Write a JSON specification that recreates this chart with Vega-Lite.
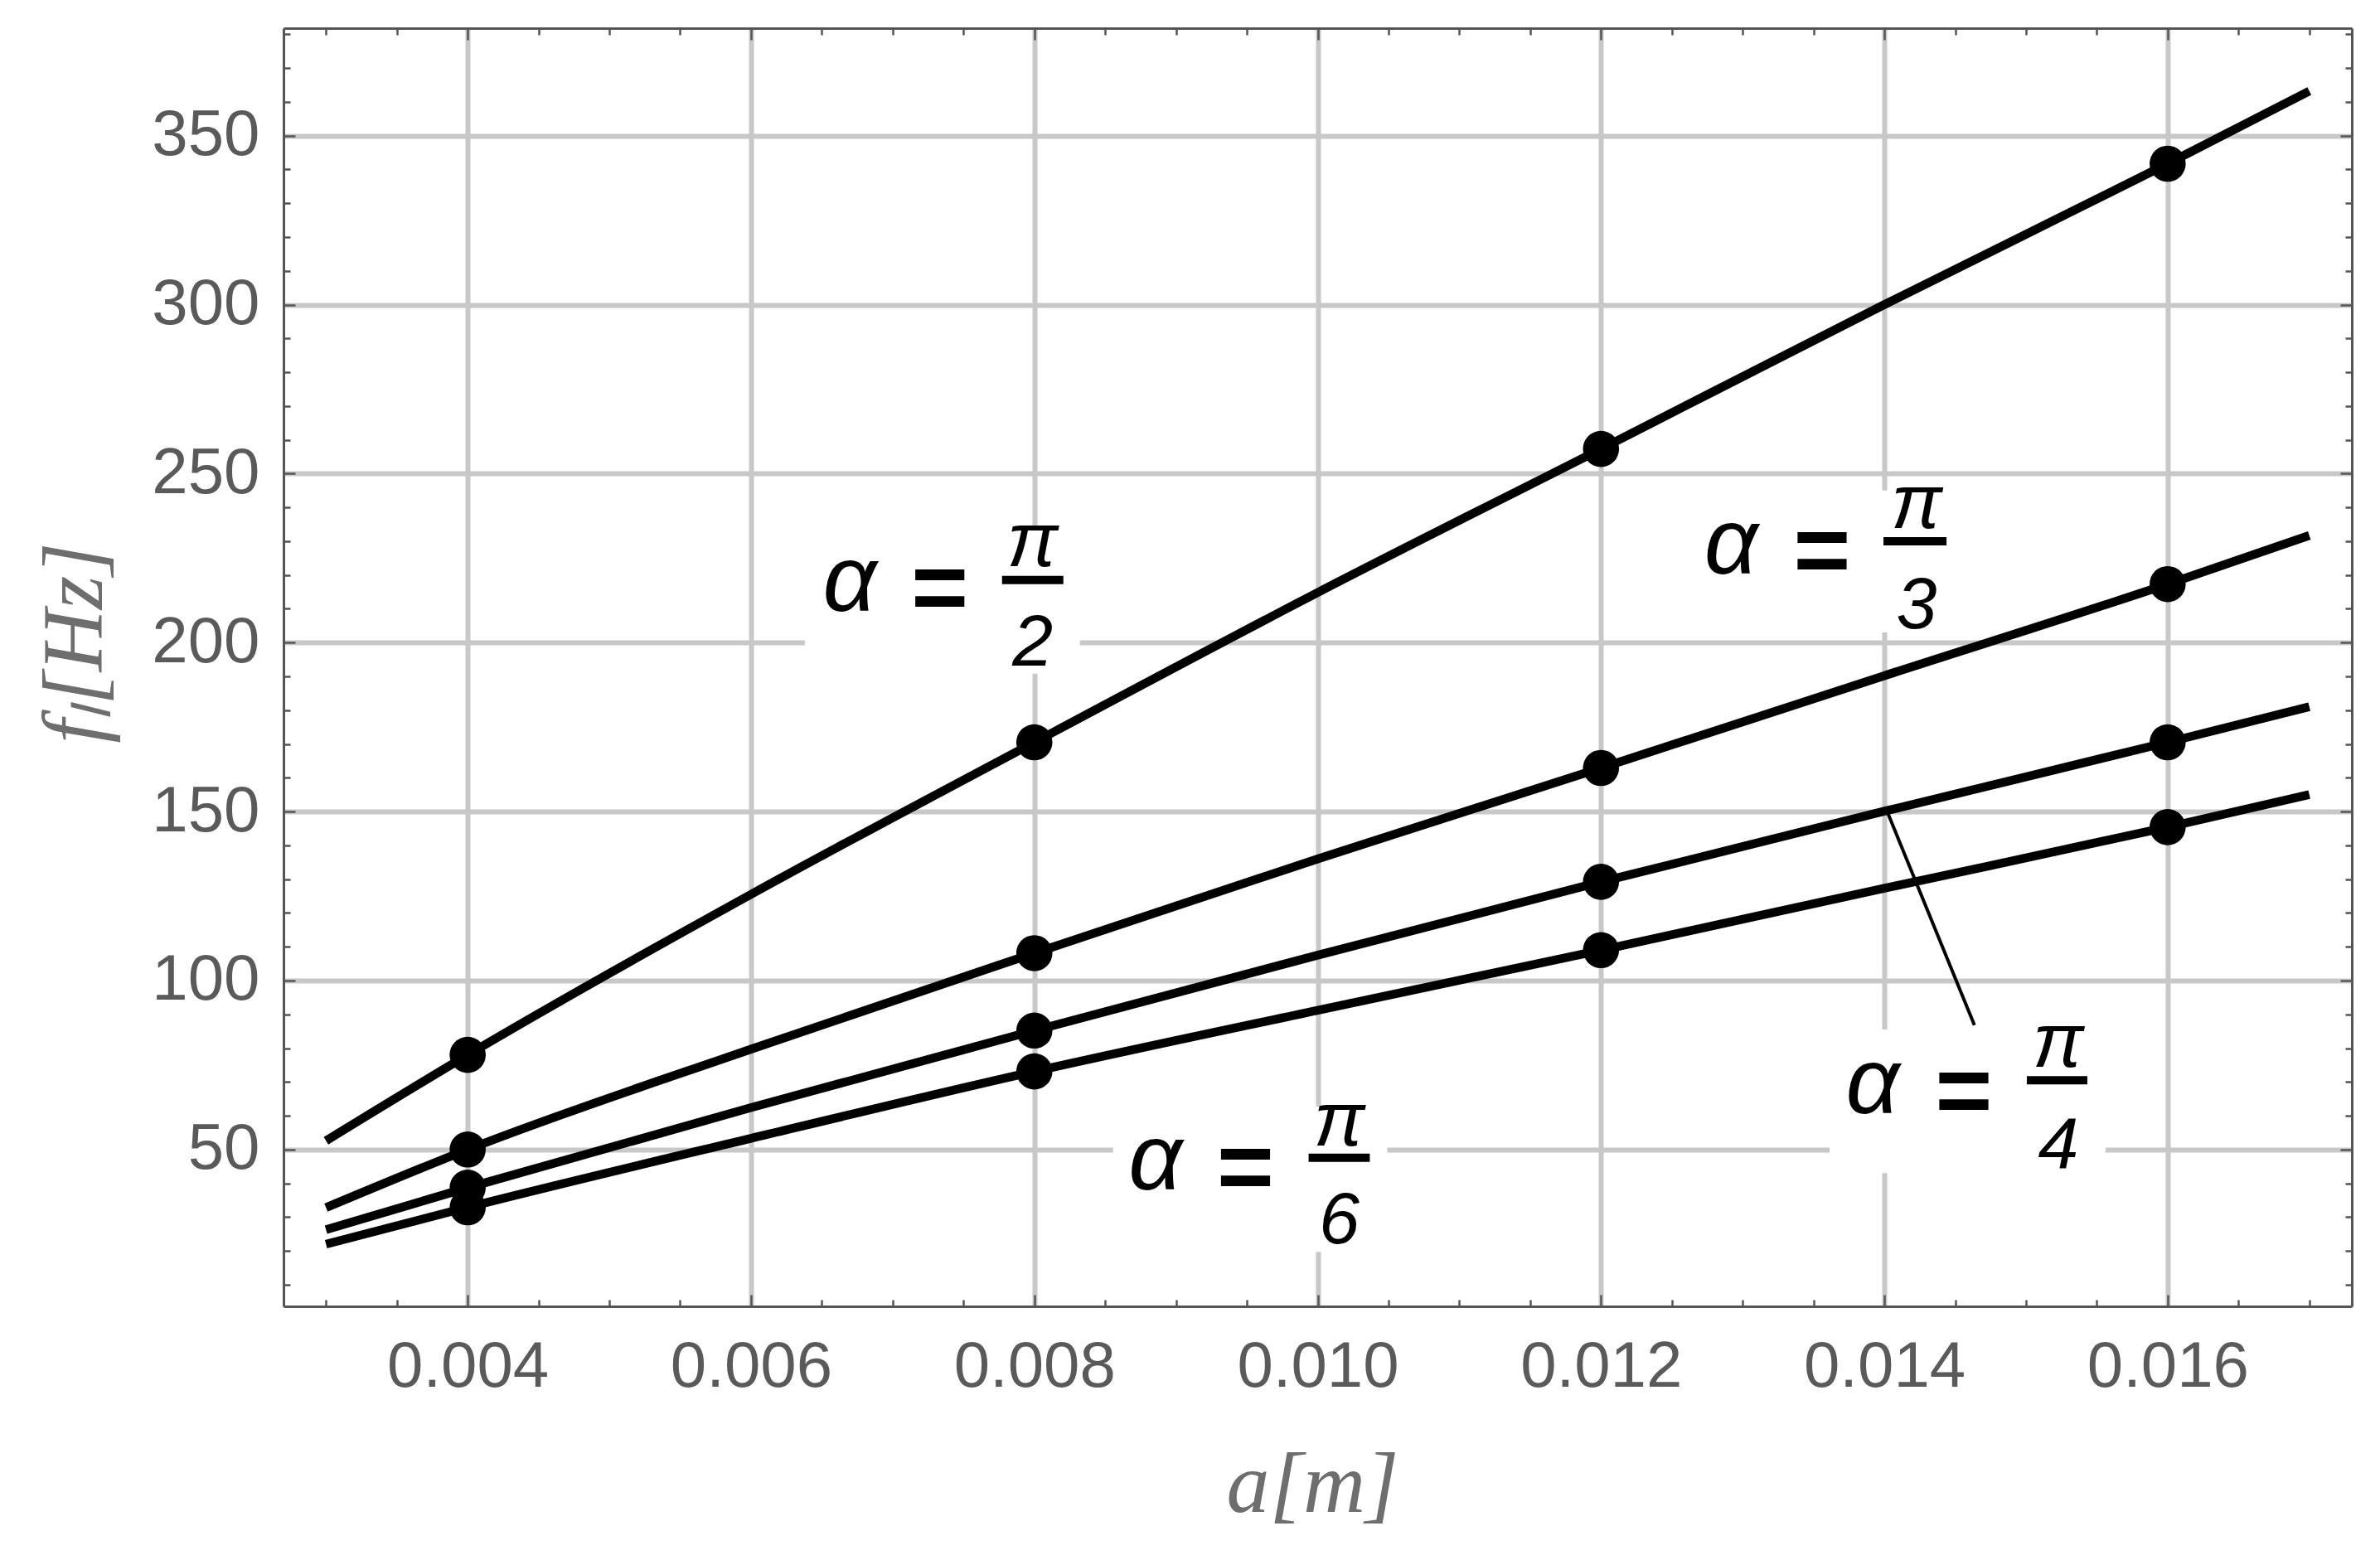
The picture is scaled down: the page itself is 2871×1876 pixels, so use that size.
{
  "$schema": "https://vega.github.io/schema/vega-lite/v6.json",
  "width": 2495,
  "height": 1542,
  "autosize": {"type": "none"},
  "padding": {"left": 342, "top": 34, "right": 34, "bottom": 300},
  "background": "white",
  "config": {
    "view": {"stroke": null},
    "axis": {
      "domainColor": "#555555",
      "domainWidth": 3,
      "tickColor": "#555555",
      "tickWidth": 2.5,
      "labelFont": "Liberation Sans",
      "labelFontSize": 78,
      "labelColor": "#5a5a5a",
      "labelLimit": 0,
      "titleFont": "Liberation Serif",
      "titleFontStyle": "italic",
      "titleFontWeight": "normal",
      "titleFontSize": 104,
      "titleColor": "#6e6e6e",
      "gridColor": "#c8c8c8",
      "gridWidth": 6,
      "gridOpacity": 1
    }
  },
  "datasets": {
    "curves": [
      {"alpha": "pi/2", "a": 0.003, "f": 52.6},
      {"alpha": "pi/2", "a": 0.004, "f": 78.0},
      {"alpha": "pi/2", "a": 0.006, "f": 125.5},
      {"alpha": "pi/2", "a": 0.008, "f": 170.5},
      {"alpha": "pi/2", "a": 0.010, "f": 214.8},
      {"alpha": "pi/2", "a": 0.012, "f": 257.3},
      {"alpha": "pi/2", "a": 0.014, "f": 300.0},
      {"alpha": "pi/2", "a": 0.016, "f": 341.7},
      {"alpha": "pi/2", "a": 0.017, "f": 363.2},
      {"alpha": "pi/3", "a": 0.003, "f": 32.8},
      {"alpha": "pi/3", "a": 0.004, "f": 50.0},
      {"alpha": "pi/3", "a": 0.006, "f": 79.7},
      {"alpha": "pi/3", "a": 0.008, "f": 108.1},
      {"alpha": "pi/3", "a": 0.010, "f": 136.0},
      {"alpha": "pi/3", "a": 0.012, "f": 162.9},
      {"alpha": "pi/3", "a": 0.014, "f": 190.2},
      {"alpha": "pi/3", "a": 0.016, "f": 217.3},
      {"alpha": "pi/3", "a": 0.017, "f": 231.7},
      {"alpha": "pi/4", "a": 0.003, "f": 26.3},
      {"alpha": "pi/4", "a": 0.004, "f": 38.7},
      {"alpha": "pi/4", "a": 0.006, "f": 62.4},
      {"alpha": "pi/4", "a": 0.008, "f": 85.2},
      {"alpha": "pi/4", "a": 0.010, "f": 107.5},
      {"alpha": "pi/4", "a": 0.012, "f": 129.2},
      {"alpha": "pi/4", "a": 0.014, "f": 150.1},
      {"alpha": "pi/4", "a": 0.016, "f": 170.5},
      {"alpha": "pi/4", "a": 0.017, "f": 181.0},
      {"alpha": "pi/6", "a": 0.003, "f": 22.0},
      {"alpha": "pi/6", "a": 0.004, "f": 32.9},
      {"alpha": "pi/6", "a": 0.006, "f": 53.3},
      {"alpha": "pi/6", "a": 0.008, "f": 73.1},
      {"alpha": "pi/6", "a": 0.010, "f": 91.2},
      {"alpha": "pi/6", "a": 0.012, "f": 109.0},
      {"alpha": "pi/6", "a": 0.014, "f": 127.3},
      {"alpha": "pi/6", "a": 0.016, "f": 145.4},
      {"alpha": "pi/6", "a": 0.017, "f": 155.0}
    ],
    "points": [
      {"alpha": "pi/2", "a": 0.004, "f": 78.0},
      {"alpha": "pi/2", "a": 0.008, "f": 170.5},
      {"alpha": "pi/2", "a": 0.012, "f": 257.3},
      {"alpha": "pi/2", "a": 0.016, "f": 341.7},
      {"alpha": "pi/3", "a": 0.004, "f": 50.0},
      {"alpha": "pi/3", "a": 0.008, "f": 108.1},
      {"alpha": "pi/3", "a": 0.012, "f": 162.9},
      {"alpha": "pi/3", "a": 0.016, "f": 217.3},
      {"alpha": "pi/4", "a": 0.004, "f": 38.7},
      {"alpha": "pi/4", "a": 0.008, "f": 85.2},
      {"alpha": "pi/4", "a": 0.012, "f": 129.2},
      {"alpha": "pi/4", "a": 0.016, "f": 170.5},
      {"alpha": "pi/6", "a": 0.004, "f": 32.9},
      {"alpha": "pi/6", "a": 0.008, "f": 73.1},
      {"alpha": "pi/6", "a": 0.012, "f": 109.0},
      {"alpha": "pi/6", "a": 0.016, "f": 145.4}
    ],
    "boxes": [
      {"alpha": "pi/2", "a": 0.00638, "a2": 0.008322, "f": 190.8, "f2": 233.2},
      {"alpha": "pi/3", "a": 0.012579, "a2": 0.014538, "f": 203.0, "f2": 245.0},
      {"alpha": "pi/4", "a": 0.013614, "a2": 0.015561, "f": 43.05, "f2": 85.5},
      {"alpha": "pi/6", "a": 0.008556, "a2": 0.010491, "f": 19.75, "f2": 62.7}
    ],
    "labels": [
      {"alpha": "pi/2", "part": "alpha", "t": "α", "a": 0.006696, "f": 209.4},
      {"alpha": "pi/2", "part": "eq", "t": "=", "a": 0.007333, "f": 206.5},
      {"alpha": "pi/2", "part": "num", "t": "π", "a": 0.007988, "f": 222.7},
      {"alpha": "pi/2", "part": "den", "t": "2", "a": 0.007988, "f": 193.2},
      {"alpha": "pi/3", "part": "alpha", "t": "α", "a": 0.012918, "f": 220.5},
      {"alpha": "pi/3", "part": "eq", "t": "=", "a": 0.013561, "f": 217.4},
      {"alpha": "pi/3", "part": "num", "t": "π", "a": 0.014228, "f": 233.9},
      {"alpha": "pi/3", "part": "den", "t": "3", "a": 0.014228, "f": 204.3},
      {"alpha": "pi/4", "part": "alpha", "t": "α", "a": 0.013918, "f": 60.65},
      {"alpha": "pi/4", "part": "eq", "t": "=", "a": 0.014561, "f": 57.5},
      {"alpha": "pi/4", "part": "num", "t": "π", "a": 0.015228, "f": 74.5},
      {"alpha": "pi/4", "part": "den", "t": "4", "a": 0.015228, "f": 44.3},
      {"alpha": "pi/6", "part": "alpha", "t": "α", "a": 0.008854, "f": 38.15},
      {"alpha": "pi/6", "part": "eq", "t": "=", "a": 0.009491, "f": 35.0},
      {"alpha": "pi/6", "part": "num", "t": "π", "a": 0.010152, "f": 51.15},
      {"alpha": "pi/6", "part": "den", "t": "6", "a": 0.010152, "f": 22.2}
    ],
    "bars": [
      {"alpha": "pi/2", "a": 0.007772, "a2": 0.008205, "f": 218.5},
      {"alpha": "pi/3", "a": 0.013994, "a2": 0.014439, "f": 230.0},
      {"alpha": "pi/4", "a": 0.015006, "a2": 0.015433, "f": 70.5},
      {"alpha": "pi/6", "a": 0.009936, "a2": 0.010368, "f": 47.55}
    ],
    "pointer": [
      {"alpha": "pi/4", "a": 0.01402, "a2": 0.014636, "f": 150.0, "f2": 86.8}
    ]
  },
  "resolve": {"axis": {"x": "independent", "y": "independent"}},
  "layer": [
    {
      "data": {"name": "boxes"},
      "mark": {"type": "rect", "fill": "white"},
      "encoding": {
        "x": {
          "field": "a",
          "type": "quantitative",
          "scale": {"domain": [0.0027, 0.0173], "nice": false, "zero": false},
          "axis": {
            "orient": "bottom",
            "values": [0.004, 0.006, 0.008, 0.010, 0.012, 0.014, 0.016],
            "format": ".3f",
            "grid": true,
            "tickSize": -14,
            "labelPadding": 48,
            "labelFlush": false,
            "labelOverlap": false,
            "title": "a[m]",
            "titleX": 1241,
            "titleY": 247,
            "titleAlign": "center",
            "titleBaseline": "alphabetic"
          }
        },
        "x2": {"field": "a2"},
        "y": {
          "field": "f",
          "type": "quantitative",
          "scale": {"domain": [3.6, 381.8], "nice": false, "zero": false},
          "axis": {
            "orient": "left",
            "values": [50, 100, 150, 200, 250, 300, 350],
            "grid": true,
            "tickSize": -14,
            "labelPadding": 43,
            "labelFlush": false,
            "labelOverlap": false,
            "title": "fₗ[Hz]",
            "titleX": -220,
            "titleY": 741,
            "titleAngle": -90,
            "titleAlign": "center",
            "titleBaseline": "alphabetic"
          }
        },
        "y2": {"field": "f2"}
      }
    },
    {
      "data": {"name": "curves"},
      "mark": {"type": "line", "color": "black", "strokeWidth": 10.5, "interpolate": "monotone"},
      "encoding": {
        "x": {
          "field": "a",
          "type": "quantitative",
          "scale": {"domain": [0.0027, 0.0173], "nice": false, "zero": false},
          "axis": {
            "orient": "bottom",
            "values": [0.003, 0.0035, 0.0045, 0.005, 0.0055, 0.0065, 0.007, 0.0075, 0.0085, 0.009, 0.0095, 0.0105, 0.011, 0.0115, 0.0125, 0.013, 0.0135, 0.0145, 0.015, 0.0155, 0.0165, 0.017],
            "labels": false,
            "grid": false,
            "domain": false,
            "tickSize": -8,
            "title": null
          }
        },
        "y": {
          "field": "f",
          "type": "quantitative",
          "scale": {"domain": [3.6, 381.8], "nice": false, "zero": false},
          "axis": {
            "orient": "left",
            "values": [10, 20, 30, 40, 60, 70, 80, 90, 110, 120, 130, 140, 160, 170, 180, 190, 210, 220, 230, 240, 260, 270, 280, 290, 310, 320, 330, 340, 360, 370, 380],
            "labels": false,
            "grid": false,
            "domain": false,
            "tickSize": -8,
            "title": null
          }
        },
        "detail": {"field": "alpha", "type": "nominal"}
      }
    },
    {
      "data": {"name": "points"},
      "mark": {"type": "circle", "color": "black", "opacity": 1, "size": 1900},
      "encoding": {
        "x": {
          "field": "a",
          "type": "quantitative",
          "scale": {"domain": [0.0027, 0.0173], "nice": false, "zero": false},
          "axis": {
            "orient": "top",
            "values": [0.004, 0.006, 0.008, 0.010, 0.012, 0.014, 0.016],
            "labels": false,
            "grid": false,
            "tickSize": -14,
            "title": null
          }
        },
        "y": {
          "field": "f",
          "type": "quantitative",
          "scale": {"domain": [3.6, 381.8], "nice": false, "zero": false},
          "axis": {
            "orient": "right",
            "values": [50, 100, 150, 200, 250, 300, 350],
            "labels": false,
            "grid": false,
            "tickSize": -14,
            "title": null
          }
        }
      }
    },
    {
      "data": {"name": "pointer"},
      "mark": {"type": "rule", "color": "black", "strokeWidth": 4},
      "encoding": {
        "x": {
          "field": "a",
          "type": "quantitative",
          "scale": {"domain": [0.0027, 0.0173], "nice": false, "zero": false},
          "axis": {
            "orient": "top",
            "values": [0.003, 0.0035, 0.0045, 0.005, 0.0055, 0.0065, 0.007, 0.0075, 0.0085, 0.009, 0.0095, 0.0105, 0.011, 0.0115, 0.0125, 0.013, 0.0135, 0.0145, 0.015, 0.0155, 0.0165, 0.017],
            "labels": false,
            "grid": false,
            "domain": false,
            "tickSize": -8,
            "title": null
          }
        },
        "x2": {"field": "a2"},
        "y": {
          "field": "f",
          "type": "quantitative",
          "scale": {"domain": [3.6, 381.8], "nice": false, "zero": false},
          "axis": {
            "orient": "right",
            "values": [10, 20, 30, 40, 60, 70, 80, 90, 110, 120, 130, 140, 160, 170, 180, 190, 210, 220, 230, 240, 260, 270, 280, 290, 310, 320, 330, 340, 360, 370, 380],
            "labels": false,
            "grid": false,
            "domain": false,
            "tickSize": -8,
            "title": null
          }
        },
        "y2": {"field": "f2"}
      }
    },
    {
      "data": {"name": "bars"},
      "mark": {"type": "rule", "color": "black", "strokeWidth": 10},
      "encoding": {
        "x": {"field": "a", "type": "quantitative", "axis": null},
        "x2": {"field": "a2"},
        "y": {"field": "f", "type": "quantitative", "axis": null}
      }
    },
    {
      "data": {"name": "labels"},
      "transform": [{"filter": "datum.part == 'alpha'"}],
      "mark": {"type": "text", "align": "center", "baseline": "alphabetic", "font": "Liberation Sans", "fontStyle": "italic", "fontSize": 114, "color": "black"},
      "encoding": {
        "x": {"field": "a", "type": "quantitative", "axis": null},
        "y": {"field": "f", "type": "quantitative", "axis": null},
        "text": {"field": "t", "type": "nominal"}
      }
    },
    {
      "data": {"name": "labels"},
      "transform": [{"filter": "datum.part == 'eq'"}],
      "mark": {"type": "text", "align": "center", "baseline": "alphabetic", "font": "Liberation Sans", "fontWeight": "bold", "fontSize": 118, "color": "black"},
      "encoding": {
        "x": {"field": "a", "type": "quantitative", "axis": null},
        "y": {"field": "f", "type": "quantitative", "axis": null},
        "text": {"field": "t", "type": "nominal"}
      }
    },
    {
      "data": {"name": "labels"},
      "transform": [{"filter": "datum.part == 'num'"}],
      "mark": {"type": "text", "align": "center", "baseline": "alphabetic", "font": "Liberation Sans", "fontStyle": "italic", "fontSize": 92, "color": "black"},
      "encoding": {
        "x": {"field": "a", "type": "quantitative", "axis": null},
        "y": {"field": "f", "type": "quantitative", "axis": null},
        "text": {"field": "t", "type": "nominal"}
      }
    },
    {
      "data": {"name": "labels"},
      "transform": [{"filter": "datum.part == 'den'"}],
      "mark": {"type": "text", "align": "center", "baseline": "alphabetic", "font": "Liberation Sans", "fontStyle": "italic", "fontSize": 88, "color": "black"},
      "encoding": {
        "x": {"field": "a", "type": "quantitative", "axis": null},
        "y": {"field": "f", "type": "quantitative", "axis": null},
        "text": {"field": "t", "type": "nominal"}
      }
    }
  ]
}
